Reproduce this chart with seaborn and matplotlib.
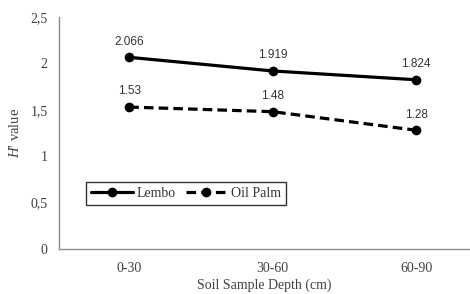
import pandas as pd
import matplotlib
matplotlib.use("Agg")
import matplotlib.pyplot as plt
import seaborn as sns

# data
depths = ["0-30", "30-60", "60-90"]
lembo = [2.066, 1.919, 1.824]
oil_palm = [1.53, 1.48, 1.28]
lembo_labels = ["2.066", "1.919", "1.824"]
oil_palm_labels = ["1.53", "1.48", "1.28"]
y_ticks = [0, 0.5, 1, 1.5, 2, 2.5]
y_tick_labels = ["0", "0,5", "1", "1,5", "2", "2,5"]

df = pd.DataFrame({
    "depth": depths * 2,
    "H": lembo + oil_palm,
    "site": ["Lembo"] * 3 + ["Oil Palm"] * 3,
})

sns.set_style("white")
plt.rcParams["font.family"] = ["Liberation Serif", "DejaVu Serif"]
plt.rcParams["mathtext.fontset"] = "custom"
plt.rcParams["mathtext.it"] = "Liberation Serif:italic"
plt.rcParams["mathtext.rm"] = "Liberation Serif"

fig = plt.figure(figsize=(4.7, 2.94), dpi=100)
ax = fig.add_axes([0.1255, 0.153, 0.8745, 0.789])

sns.lineplot(data=df, x="depth", y="H", hue="site", style="site",
             palette=["black", "black"], markers=["o", "o"],
             dashes=[(None, None), (3, 1.6)], linewidth=2.3,
             markersize=7, markeredgewidth=0, ax=ax)

# value labels above points
for i, (v, t) in enumerate(zip(lembo, lembo_labels)):
    ax.annotate(t, (i, v), xytext=(0, 7), textcoords="offset points",
                ha="center", va="bottom", fontsize=8.5,
                family="Liberation Sans", color="#333333")
for i, (v, t) in enumerate(zip(oil_palm, oil_palm_labels)):
    ax.annotate(t, (i, v), xytext=(0, 7), textcoords="offset points",
                ha="center", va="bottom", fontsize=8.5,
                family="Liberation Sans", color="#333333")

ax.set_xlim(-0.49, 2.375)
ax.set_ylim(0, 2.5)
ax.set_yticks(y_ticks)
ax.set_yticklabels(y_tick_labels)
ax.tick_params(axis="both", length=0, labelsize=10, colors="#404040", pad=8)
ax.tick_params(axis="x", pad=9)
ax.set_xlabel("Soil Sample Depth (cm)", fontsize=10, color="#404040", labelpad=3)
ax.set_ylabel("$H$' value", fontsize=10.5, color="#404040", labelpad=6)

for s in ["top", "right"]:
    ax.spines[s].set_visible(False)
for s in ["left", "bottom"]:
    ax.spines[s].set_color("#8c8c8c")
    ax.spines[s].set_linewidth(1.0)

leg = ax.legend(ncol=2, loc="lower left", bbox_to_anchor=(0.066, 0.19),
                frameon=True, fancybox=False, fontsize=10,
                handlelength=3.0, columnspacing=0.7, handletextpad=0.3,
                borderpad=0.35, borderaxespad=0)
leg.get_frame().set_edgecolor("black")
leg.get_frame().set_linewidth(1.0)
for t in leg.get_texts():
    t.set_color("#333333")

fig.savefig("out.png", dpi=100)
